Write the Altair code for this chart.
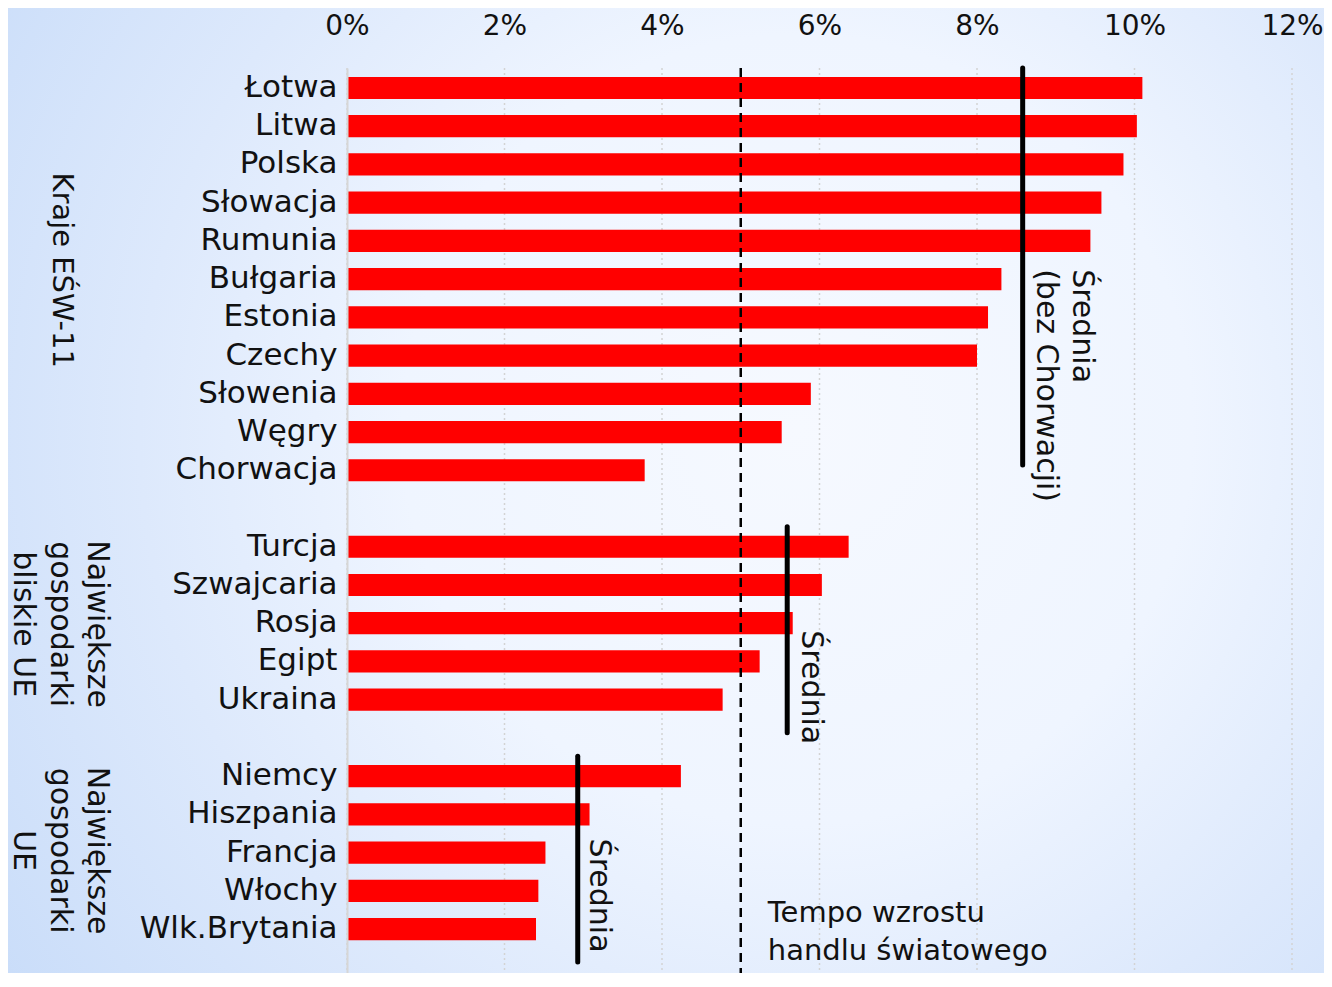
import altair as alt
import pandas as pd

# ---- data ----
countries = ["Łotwa", "Litwa", "Polska", "Słowacja", "Rumunia", "Bułgaria", "Estonia",
             "Czechy", "Słowenia", "Węgry", "Chorwacja",
             "Turcja", "Szwajcaria", "Rosja", "Egipt", "Ukraina",
             "Niemcy", "Hiszpania", "Francja", "Włochy", "Wlk.Brytania"]
growth = [10.10, 10.03, 9.86, 9.58, 9.44, 8.31, 8.14, 8.00, 5.89, 5.52, 3.78,
          6.37, 6.03, 5.66, 5.24, 4.77,
          4.24, 3.08, 2.52, 2.43, 2.40]

# row order with empty slots between the groups
row_order = countries[:11] + [" "] + countries[11:16] + ["  "] + countries[16:]

avg_values = [8.58, 5.59, 2.93]
avg_first = ["Łotwa", "Turcja", "Niemcy"]
avg_last = ["Węgry", "Ukraina", "Wlk.Brytania"]

world_trade = [5.0]
tick_values = [0, 2, 4, 6, 8, 10, 12]

FONT = "DejaVu Sans"
W, H = 945, 905
PL, PT, PR = 339, 60, 32

xscale = alt.Scale(domain=[0, 12], nice=False, zero=True)
yscale = alt.Scale(domain=row_order, paddingInner=0.42, paddingOuter=0.546,
                   align=0.213, round=False)

bars_df = pd.DataFrame({"name": countries, "value": growth})
avg_df = pd.DataFrame({"avg": avg_values, "first": avg_first, "last": avg_last})

bg = alt.Chart(pd.DataFrame({"a": [0]})).mark_rect(
    fill={"gradient": "radial", "x1": 0.6, "y1": 0.45, "r1": 0,
          "x2": 0.6, "y2": 0.45, "r2": 1,
          "stops": [{"offset": 0, "color": "#f6f9ff"},
                    {"offset": 0.3, "color": "#eff5ff"},
                    {"offset": 0.5, "color": "#dde9fc"},
                    {"offset": 0.75, "color": "#c8dcf9"},
                    {"offset": 0.95, "color": "#bbd4fa"}]}
).encode(x=alt.value(-PL), x2=alt.value(W + PR), y=alt.value(-PT), y2=alt.value(H + 10))

grid = alt.Chart(pd.DataFrame({"t": tick_values})).mark_rule(
    color="#d3d3d3", strokeWidth=1.5, strokeDash=[2, 3]
).encode(x=alt.X("t:Q", scale=xscale))

bars = alt.Chart(bars_df).mark_bar(color="#ff0000").encode(
    x=alt.X("value:Q", scale=xscale,
            axis=alt.Axis(orient="top", values=tick_values, labelExpr="datum.value + '%'",
                          grid=False, ticks=False, tickSize=0, domain=False,
                          labelFlush=False, labelOverlap=False,
                          labelFont=FONT, labelFontSize=28, labelColor="#111111",
                          labelPadding=28, title=None, zindex=1)),
    y=alt.Y("name:N", scale=yscale,
            axis=alt.Axis(title=None, ticks=False, tickSize=0, labelFont=FONT,
                          labelFontSize=31, labelColor="#111111", labelPadding=10,
                          domainColor="#d6d6d6", domainWidth=2, zindex=1,
                          labelLimit=400)),
)

dashed = alt.Chart(pd.DataFrame({"w": world_trade})).mark_rule(
    color="black", strokeWidth=2.5, strokeDash=[9, 6]
).encode(x=alt.X("w:Q", scale=xscale))

avg_rules = alt.Chart(avg_df).mark_rule(
    color="black", strokeWidth=5, strokeCap="round", yOffset=-20, y2Offset=33
).encode(
    x=alt.X("avg:Q", scale=xscale),
    y=alt.Y("first:N", scale=yscale),
    y2="last:N",
)

def txt(df, size=30, **kw):
    return alt.Chart(df).mark_text(font=FONT, fontSize=size, color="#111111", **kw)

lab1 = txt(pd.DataFrame({"avg": [avg_values[0]], "pos": ["Bułgaria"],
                         "t": [["Średnia", "(bez Chorwacji)"]]}),
           angle=90, align="left", baseline="middle", lineHeight=36,
           xOffset=59, yOffset=-10).encode(
    x=alt.X("avg:Q", scale=xscale), y=alt.Y("pos:N", scale=yscale), text="t")
lab2 = txt(pd.DataFrame({"avg": [avg_values[1]], "pos": ["Rosja"], "t": ["Średnia"]}),
           angle=90, align="left", baseline="middle", xOffset=24, yOffset=7).encode(
    x=alt.X("avg:Q", scale=xscale), y=alt.Y("pos:N", scale=yscale), text="t")
lab3 = txt(pd.DataFrame({"avg": [avg_values[2]], "pos": ["Francja"], "t": ["Średnia"]}),
           angle=90, align="left", baseline="middle", xOffset=21, yOffset=-14).encode(
    x=alt.X("avg:Q", scale=xscale), y=alt.Y("pos:N", scale=yscale), text="t")

tempo = txt(pd.DataFrame({"w": world_trade, "pos": ["Wlk.Brytania"],
                          "t": [["Tempo wzrostu", "handlu światowego"]]}),
            size=29, align="left", baseline="middle", lineHeight=38, xOffset=27,
            yOffset=-16).encode(
    x=alt.X("w:Q", scale=xscale), y=alt.Y("pos:N", scale=yscale), text="t")

g1 = txt(pd.DataFrame({"pos": ["Bułgaria"], "t": ["Kraje EŚW-11"]}),
         size=29, angle=90, align="center", baseline="middle", yOffset=-9).encode(
    x=alt.value(-285), y=alt.Y("pos:N", scale=yscale), text="t")
g2 = txt(pd.DataFrame({"pos": ["Rosja"], "t": [["Największe", "gospodarki", "bliskie UE"]]}),
         angle=90, align="center", baseline="middle", lineHeight=37, yOffset=1).encode(
    x=alt.value(-250), y=alt.Y("pos:N", scale=yscale), text="t")
g3 = txt(pd.DataFrame({"pos": ["Francja"], "t": [["Największe", "gospodarki", "UE"]]}),
         angle=90, align="center", baseline="middle", lineHeight=37, yOffset=-2).encode(
    x=alt.value(-250), y=alt.Y("pos:N", scale=yscale), text="t")

chart = alt.layer(bg, grid, bars, dashed, avg_rules, lab1, lab2, lab3, tempo, g1, g2, g3).properties(
    width=W, height=H,
    autosize=alt.AutoSizeParams(type="none"),
    padding={"left": PL, "top": PT, "right": PR, "bottom": 0},
    background="#c7dbf9",
).configure_view(stroke=None)

chart.save("out.html", embed_options={"renderer": "svg", "actions": False})
